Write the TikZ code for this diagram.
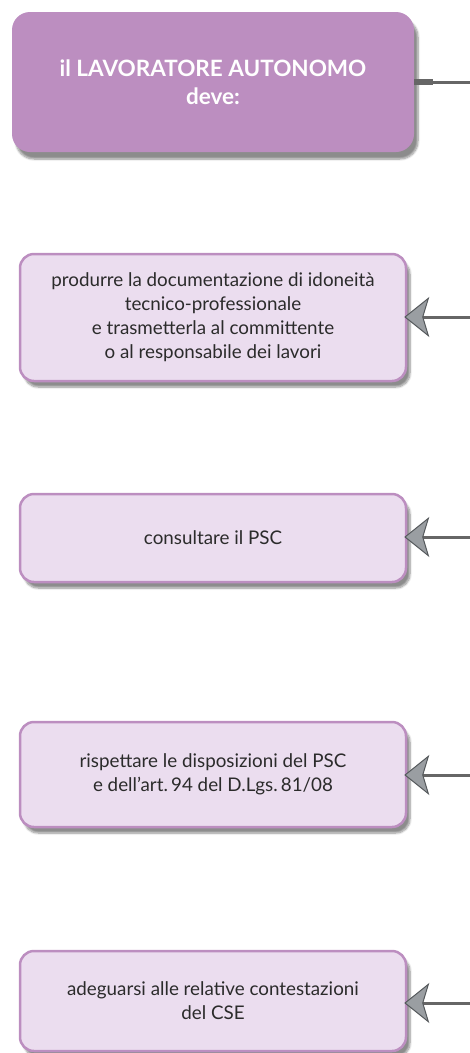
\documentclass[tikz,border=0pt]{standalone}
\usepackage{fontspec}
\setmainfont{Lato}
\usetikzlibrary{arrows.meta,shadows.blur}
\definecolor{headfill}{HTML}{BC8EC0}
\definecolor{boxfill}{HTML}{EBDDEF}
\definecolor{boxline}{HTML}{BC8EC0}
\definecolor{txt}{HTML}{2B2B2B}
\definecolor{conn}{HTML}{666666}
\definecolor{tipfill}{HTML}{9A9EA2}
\definecolor{tipline}{HTML}{55595C}
\tikzset{
  headbox/.style={rectangle, rounded corners=18pt, fill=headfill, draw=none,
    minimum width=402pt, minimum height=140pt, align=center, text=white,
    font=\fontsize{22.5}{28}\selectfont\bfseries,
    blur shadow={shadow xshift=4pt, shadow yshift=-7pt, shadow blur steps=8, shadow opacity=45}},
  taskbox/.style={rectangle, rounded corners=14pt, fill=boxfill, draw=boxline, line width=2.5pt,
    minimum width=386pt, align=center, text=txt,
    font=\fontsize{18.8}{24}\selectfont,
    blur shadow={shadow xshift=4pt, shadow yshift=-6pt, shadow blur steps=8, shadow opacity=45}},
  feed/.style={draw=conn, line width=3pt,
    -{Stealth[length=25pt,width=40pt,inset=6pt,fill=tipfill,color=tipline,line width=1pt]}},
}
\begin{document}
\begin{tikzpicture}[x=1pt,y=-1pt]
\useasboundingbox (0,0) rectangle (470,1053);
\node[headbox] (head) at (213,82) {il LAVORATORE AUTONOMO\\deve:};
\node[taskbox, minimum height=127pt] (t1) at (213,317.5) {produrre la documentazione di idoneità\\tecnico-professionale\\e trasmetterla al committente\\o al responsabile dei lavori};
\node[taskbox, minimum height=88pt] (t2) at (213,538) {consultare il PSC};
\node[taskbox, minimum height=105pt] (t3) at (213,774.5) {rispettare le disposizioni del PSC\\e dell’art.\,94 del D.Lgs.\,81/08};
\node[taskbox, minimum height=100pt] (t4) at (213,1001) {adeguarsi alle relative contestazioni\\del CSE};
\coordinate (hs) at (433,82);
\coordinate (he) at (470,82);
\draw[conn, line width=6pt] (head.east) -- (hs);
\draw[conn, line width=3pt] (hs) -- (he);
\coordinate (e1) at (470,317);
\coordinate (e2) at (470,537);
\coordinate (e3) at (470,775);
\coordinate (e4) at (470,1003);
\draw[feed] (e1) -- ([xshift=-3pt]t1.east |- e1);
\draw[feed] (e2) -- ([xshift=-3pt]t2.east |- e2);
\draw[feed] (e3) -- ([xshift=-3pt]t3.east |- e3);
\draw[feed] (e4) -- ([xshift=-3pt]t4.east |- e4);
\end{tikzpicture}
\end{document}
